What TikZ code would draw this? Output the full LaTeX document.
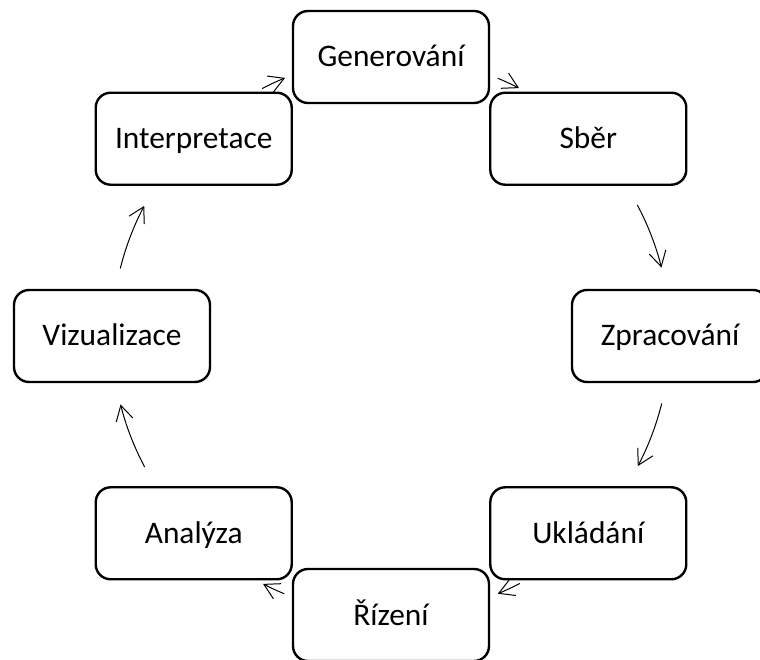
\documentclass[tikz,border=0pt]{standalone}
\usepackage{fontspec}
\setmainfont{Carlito}
\usetikzlibrary{arrows.meta}
\begin{document}
\begin{tikzpicture}[x=1pt,y=1pt,
  box/.style={draw, line width=2.4pt, rounded corners=15pt, minimum width=196pt, minimum height=92pt,
    inner sep=0pt, font=\fontsize{31.4}{36}\selectfont, text height=20pt, text depth=0pt},
  flow/.style={line width=1pt, -{Straight Barb[length=15pt,width=17pt,line width=1pt]}}]
\useasboundingbox (0,0) rectangle (760,659);
\fill[white] (0,0) rectangle (760,659);
\clip (0,0) rectangle (760,659);
\coordinate (O) at (391,323);
\node[box] (gen) at ([shift={(90:279)}]O) {Generování};
\node[box] (sber) at ([shift={(45:279)}]O) {Sběr};
\node[box] (zpr) at ([shift={(0:279)}]O) {Zpracování};
\node[box] (ukl) at ([shift={(-45:279)}]O) {Ukládání};
\node[box] (riz) at ([shift={(-90:279)}]O) {Řízení};
\node[box] (ana) at ([shift={(-135:279)}]O) {Analýza};
\node[box] (viz) at ([shift={(180:279)}]O) {Vizualizace};
\node[box] (int) at ([shift={(135:279)}]O) {Interpretace};
% arrow start points on the cycle circle
\coordinate (s1) at ([shift={(117.5:279)}]O);
\coordinate (s2) at ([shift={(67.5:279)}]O);
\coordinate (s3) at ([shift={(28:279)}]O);
\coordinate (s4) at ([shift={(-14:279)}]O);
\coordinate (s5) at ([shift={(-62.5:279)}]O);
\coordinate (s6) at ([shift={(-112.5:279)}]O);
\coordinate (s7) at ([shift={(-152:279)}]O);
\coordinate (s8) at ([shift={(166:279)}]O);
\draw[flow] (s1) arc[start angle=117.5, end angle=112.3, radius=279];
\draw[flow] (s2) arc[start angle=67.5, end angle=62.7, radius=279];
\draw[flow] (s3) arc[start angle=28, end angle=14.2, radius=279];
\draw[flow] (s4) arc[start angle=-14, end angle=-27.8, radius=279];
\draw[flow] (s5) arc[start angle=-62.5, end angle=-67.5, radius=279];
\draw[flow] (s6) arc[start angle=-112.5, end angle=-117.3, radius=279];
\draw[flow] (s7) arc[start angle=-152, end angle=-165.8, radius=279];
\draw[flow] (s8) arc[start angle=166, end angle=152.2, radius=279];
\end{tikzpicture}
\end{document}
